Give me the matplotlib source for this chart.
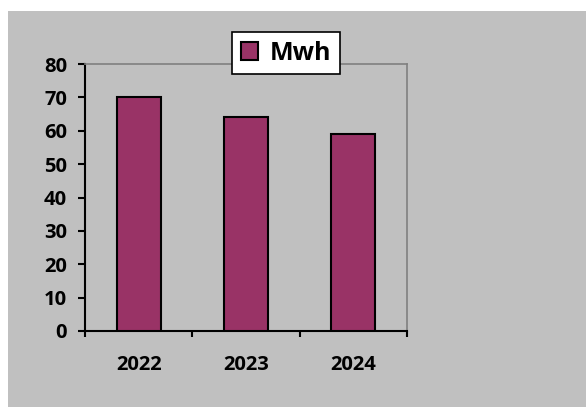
import matplotlib
matplotlib.use("Agg")
import matplotlib.pyplot as plt
import matplotlib.patches as mpatches
import numpy as np

# ------------------------------------------
# DATOS
# ------------------------------------------
years = ["2022", "2023", "2024"]
mwh = [70, 64, 59]
series_name = "Mwh"
y_ticks = [0, 10, 20, 30, 40, 50, 60, 70, 80]

BG = "#C0C0C0"
BAR = "#993366"

plt.rcParams["font.family"] = ["Open Sans", "DejaVu Sans"]
plt.rcParams["font.weight"] = "bold"

fig = plt.figure(figsize=(5.86, 4.07), dpi=100)
fig.patch.set_facecolor("white")
# fondo gris del area del grafico
bg = mpatches.Rectangle((7.8 / 586, 0), 1, 1 - 11 / 407,
                        transform=fig.transFigure,
                        facecolor=BG, edgecolor="none", zorder=-10)
fig.patches.append(bg)

ax = fig.add_axes([85 / 586, 1 - 331 / 407, (407 - 85) / 586, (331 - 64) / 407])
ax.set_facecolor("none")

x = np.arange(len(years)) + 0.5
ax.bar(x, mwh, width=0.41, color=BAR, edgecolor="black", linewidth=1.5,
       label=series_name, zorder=3)

ax.set_xlim(0, len(years))
ax.set_ylim(0, 80)
ax.set_yticks(y_ticks)
ax.set_yticklabels([str(v) for v in y_ticks], fontsize=14.5, fontweight="bold")

# ticks en los limites de categoria, etiquetas en el centro
ax.set_xticks(np.arange(len(years) + 1))
ax.set_xticklabels([])
ax.set_xticks(x, minor=True)
ax.set_xticklabels(years, minor=True, fontsize=14.5, fontweight="bold")
ax.tick_params(axis="x", which="major", direction="out", length=4.5, width=1.5)
ax.tick_params(axis="x", which="minor", length=0, pad=17.5)
ax.tick_params(axis="y", direction="out", length=5, width=1.5, pad=8)

for side in ["left", "bottom"]:
    ax.spines[side].set_color("black")
    ax.spines[side].set_linewidth(1.5)
for side in ["top", "right"]:
    ax.spines[side].set_color("#808080")
    ax.spines[side].set_linewidth(1.2)

leg = fig.legend(loc="center", bbox_to_anchor=(286 / 586, 1 - 53 / 407),
                 frameon=True, fancybox=False,
                 prop={"weight": "bold", "size": 18},
                 handlelength=0.7, handleheight=0.7, handletextpad=0.45,
                 borderpad=0.35, borderaxespad=0)
leg.get_frame().set_edgecolor("black")
leg.get_frame().set_linewidth(1.2)
leg.get_frame().set_facecolor("white")
leg.get_frame().set_alpha(1)

fig.savefig("out.png", dpi=100)
plt.close(fig)
